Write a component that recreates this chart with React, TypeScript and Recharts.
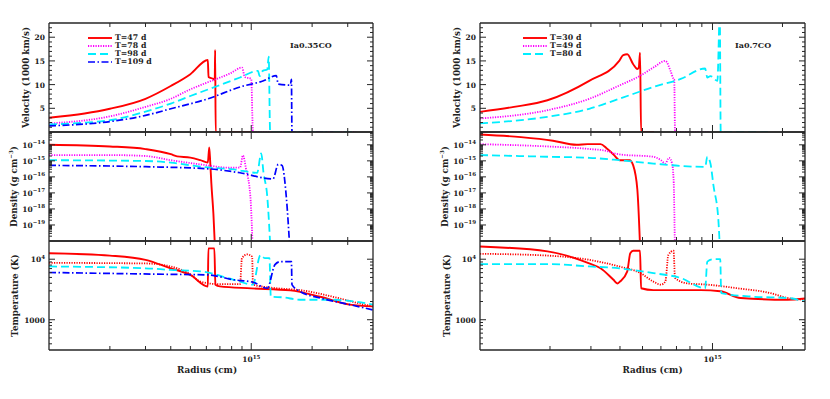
import React from 'react';
import { LineChart, Line, XAxis, YAxis, Legend } from 'recharts';

type Pt = [number, number];

// ---- model Ia0.35CO (left column) ----
const LEFT_MODEL = 'Ia0.35CO';
const LEFT_TIMES = ['T=47 d', 'T=78 d', 'T=98 d', 'T=109 d'];

// velocity in 1000 km/s vs radius (cm)
const L_VEL_47: Pt[] = [[1.0e14, 3.0], [1.5e14, 3.9], [2.0e14, 4.9], [3.0e14, 7.0], [4.0e14, 9.7], [5.0e14, 12.2], [6.1e14, 15.2], [6.15e14, 11.6], [6.5e14, 11.2], [6.6e14, 11.0], [6.63e14, 17.3], [6.67e14, 0], [1.0e15, 0]];
const L_VEL_78: Pt[] = [[1.0e14, 1.8], [2.0e14, 3.3], [3.0e14, 5.3], [4.0e14, 7.0], [5.0e14, 9.0], [6.1e14, 10.5], [7.9e14, 12.4], [9.0e14, 13.6], [9.3e14, 11.6], [1.0e15, 11.2], [1.02e15, 0], [3.3e15, 0]];
const L_VEL_98: Pt[] = [[1.0e14, 1.6], [2.0e14, 2.5], [3.0e14, 4.3], [4.0e14, 6.0], [5.0e14, 7.6], [6.8e14, 9.7], [8.8e14, 11.5], [1.08e15, 12.9], [1.1e15, 11.8], [1.14e15, 12.9], [1.2e15, 13.2], [1.22e15, 15.9], [1.24e15, 0], [3.3e15, 0]];
const L_VEL_109: Pt[] = [[1.0e14, 1.3], [2.0e14, 2.2], [3.0e14, 3.5], [4.0e14, 4.9], [6.1e14, 7.0], [8.8e14, 9.5], [1.15e15, 10.8], [1.33e15, 11.9], [1.36e15, 10.1], [1.56e15, 9.9], [1.58e15, 11.1], [1.59e15, 0], [2.55e15, 0]];

// density in g cm^-3
const L_DEN_47: Pt[] = [[1e14, 1.0e-14], [2e14, 7.9e-15], [3e14, 5.4e-15], [4e14, 2.6e-15], [4.3e14, 1.9e-15], [5e14, 1.6e-15], [5.6e14, 1.1e-15], [6.1e14, 7.8e-16], [6.2e14, 6.9e-15], [6.27e14, 8e-16], [6.35e14, 4e-17], [6.5e14, 5e-19], [6.65e14, 1e-21]];
const L_DEN_78: Pt[] = [[1e14, 2.3e-15], [2e14, 2.3e-15], [3e14, 2.0e-15], [4e14, 1.1e-15], [5.6e14, 6e-16], [7.9e14, 3.7e-16], [8.8e14, 3.8e-16], [9.1e14, 2.2e-15], [9.4e14, 3.7e-16], [9.9e14, 6e-18], [1.02e15, 1e-21]];
const L_DEN_98: Pt[] = [[1e14, 1.1e-15], [3e14, 9.8e-16], [4e14, 7.8e-16], [5.6e14, 4.3e-16], [8.2e14, 2.9e-16], [1.07e15, 1.8e-16], [1.12e15, 2.95e-15], [1.15e15, 1.8e-16], [1.2e15, 6e-18], [1.25e15, 1e-21]];
const L_DEN_109: Pt[] = [[1e14, 5.2e-16], [3e14, 4.3e-16], [6.1e14, 3.2e-16], [8.8e14, 1.8e-16], [1.28e15, 7.4e-17], [1.36e15, 6e-16], [1.42e15, 5.2e-16], [1.49e15, 6e-18], [1.56e15, 1e-21]];

// temperature in K
const L_TEM_47: Pt[] = [[1e14, 12560], [2e14, 11480], [3e14, 9770], [4e14, 7080], [5e14, 5500], [6.1e14, 3550], [6.14e14, 15100], [6.57e14, 15100], [6.65e14, 3800], [7.0e14, 3550], [1e15, 3300], [1.56e15, 3050], [2.19e15, 2400], [3.07e15, 1780], [4e15, 1660]];
const L_TEM_78: Pt[] = [[1e14, 8710], [3e14, 8510], [4e14, 7590], [5e14, 5620], [5.6e14, 4270], [6.8e14, 3890], [8.8e14, 3890], [9.0e14, 10470], [9.56e14, 12000], [1.01e15, 11000], [1.02e15, 3800], [1.34e15, 3310], [1.74e15, 3090], [2.53e15, 2400], [3.33e15, 1900], [4e15, 1660]];
const L_TEM_98: Pt[] = [[1e14, 7590], [3e14, 7080], [4e14, 6650], [5.6e14, 6310], [8.2e14, 4570], [1.02e15, 3800], [1.11e15, 11700], [1.17e15, 10400], [1.23e15, 10400], [1.25e15, 2400], [1.44e15, 2340], [1.74e15, 2140], [2.53e15, 2140], [4e15, 1780]];
const L_TEM_109: Pt[] = [[1e14, 6030], [4e14, 5620], [6.1e14, 5500], [8.2e14, 4570], [1.02e15, 4170], [1.2e15, 3310], [1.31e15, 8130], [1.39e15, 9120], [1.58e15, 9120], [1.59e15, 3800], [1.74e15, 2950], [2.19e15, 2290], [3.07e15, 1780], [4e15, 1450]];

// ---- model Ia0.7CO (right column) ----
const RIGHT_MODEL = 'Ia0.7CO';
const RIGHT_TIMES = ['T=30 d', 'T=49 d', 'T=80 d'];

const R_VEL_30: Pt[] = [[1e14, 4.25], [1.4e14, 5.3], [1.95e14, 6.7], [2.95e14, 10.8], [3.97e14, 15.0], [4.13e14, 16.2], [4.3e14, 16.4], [4.56e14, 14.3], [4.75e14, 13.3], [4.82e14, 13.6], [4.88e14, 16.75], [4.93e14, 0], [5.6e14, 0]];
const R_VEL_49: Pt[] = [[1e14, 2.85], [1.95e14, 4.6], [2.95e14, 7.0], [3.97e14, 9.8], [4.9e14, 11.9], [5.57e14, 13.6], [6.27e14, 15.0], [6.6e14, 12.9], [6.8e14, 11.2], [6.85e14, 11.0], [6.9e14, 0], [9.8e14, 0]];
const R_VEL_80: Pt[] = [[1e14, 1.8], [1.95e14, 3.2], [2.95e14, 4.9], [3.97e14, 7.0], [5.57e14, 9.5], [7.3e14, 11.2], [9.3e14, 13.4], [9.5e14, 11.5], [9.8e14, 11.8], [1.05e15, 10.8], [1.075e15, 25], [1.085e15, 0], [1.73e15, 0]];

const R_DEN_30: Pt[] = [[1e14, 4.4e-14], [1.5e14, 3.0e-14], [2.06e14, 1.8e-14], [2.6e14, 1.0e-14], [2.9e14, 1.1e-14], [3.3e14, 1.1e-14], [3.5e14, 6.2e-15], [3.75e14, 2.5e-15], [4.0e14, 1.1e-15], [4.4e14, 1.1e-15], [4.56e14, 5.2e-16], [4.75e14, 1.7e-17], [4.9e14, 1e-21]];
const R_DEN_49: Pt[] = [[1e14, 1.1e-14], [1.95e14, 7.9e-15], [2.95e14, 5.5e-15], [3.5e14, 4.2e-15], [3.75e14, 3.0e-15], [4.0e14, 2.5e-15], [5.57e14, 1.8e-15], [6.0e14, 1.1e-15], [6.27e14, 6.8e-16], [6.5e14, 1.55e-15], [6.7e14, 6.8e-16], [6.8e14, 8e-17], [6.9e14, 1e-21]];
const R_DEN_80: Pt[] = [[1e14, 2.3e-15], [1.95e14, 1.8e-15], [2.95e14, 1.55e-15], [3.97e14, 1.1e-15], [5.57e14, 6.8e-16], [7.3e14, 4.8e-16], [9.3e14, 4.2e-16], [9.5e14, 1.8e-15], [9.8e14, 6.8e-16], [1.01e15, 2.8e-17], [1.06e15, 2e-19], [1.08e15, 1e-21]];

const R_TEM_30: Pt[] = [[1e14, 16200], [1.95e14, 13500], [2.95e14, 8510], [3.3e14, 7080], [3.75e14, 4570], [3.9e14, 3980], [4.0e14, 4270], [4.3e14, 6310], [4.43e14, 12600], [4.56e14, 13800], [4.88e14, 13800], [4.93e14, 3310], [5.57e14, 3090], [8.9e14, 3090], [1.08e15, 2950], [1.32e15, 2290], [2.1e15, 2140], [2.5e15, 2240]];
const R_TEM_49: Pt[] = [[1e14, 12300], [1.95e14, 11480], [2.95e14, 9770], [3.97e14, 7590], [4.9e14, 5890], [5.57e14, 4270], [6.0e14, 3800], [6.27e14, 4270], [6.46e14, 11750], [6.8e14, 13800], [6.9e14, 4900], [7.8e14, 3980], [9.5e14, 3800], [1.28e15, 3310], [1.78e15, 2750], [2.1e15, 2290], [2.5e15, 2140]];
const R_TEM_80: Pt[] = [[1e14, 8320], [1.95e14, 8320], [2.95e14, 7590], [3.97e14, 7080], [5.57e14, 5890], [7.3e14, 4900], [9.3e14, 3310], [9.5e14, 9120], [1.01e15, 10000], [1.08e15, 10000], [1.09e15, 2750], [1.5e15, 2400], [2.1e15, 2290], [2.5e15, 2000]];

// axes
const LEFT_X_DOMAIN: [number, number] = [1e14, 4e15];
const RIGHT_X_DOMAIN: [number, number] = [1e14, 2.5e15];
const LEFT_X_TICKS = [2e14, 3e14, 4e14, 5e14, 6e14, 7e14, 8e14, 9e14, 1e15, 2e15, 3e15];
const RIGHT_X_TICKS = [2e14, 3e14, 4e14, 5e14, 6e14, 7e14, 8e14, 9e14, 1e15, 2e15];
const VEL_DOMAIN: [number, number] = [0, 23];
const VEL_TICKS = Array.from({ length: 22 }, (_, i) => i + 1);
const DEN_DOMAIN: [number, number] = [1e-20, 6.3e-14];
const DEN_DECADES = [-20, -19, -18, -17, -16, -15, -14];
const TEM_DOMAIN: [number, number] = [316, 20000];
const TEM_TICKS = [400, 500, 600, 700, 800, 900, 1000, 2000, 3000, 4000, 5000, 6000, 7000, 8000, 9000, 10000];

const DEN_TICKS: number[] = [];
DEN_DECADES.forEach((d) => {
  for (let m = 1; m <= 9; m++) {
    const v = m * Math.pow(10, d);
    if (v > DEN_DOMAIN[0] && v < DEN_DOMAIN[1]) DEN_TICKS.push(v);
  }
});

const COLORS = ['#ff0000', '#ff00ff', '#00eeff', '#0000ff'];
const DASHES = [undefined, '1.2 1.3', '8 4', '7 2.5 1.5 2.5'];
const WIDTHS = [1.9, 1.8, 1.8, 1.7];

const AXIS = '#262626';
const FONT = '"DejaVu Serif", "Liberation Serif", serif';

interface Series {
  name: string;
  data: Pt[];
  color: string;
  dash?: string;
  width: number;
}

const makeSeries = (names: string[], sets: Pt[][], colors = COLORS): Series[] =>
  sets.map((d, i) => ({ name: names[i], data: d, color: colors[i], dash: DASHES[i], width: WIDTHS[i] }));

const isDecade = (v: number) => {
  const l = Math.log10(v);
  return Math.abs(l - Math.round(l)) < 1e-6;
};

const Pow10 = ({ e }: { e: number }) => (
  <>
    10<tspan dy={-3.5} fontSize={5.5}>{e < 0 ? '\u2212' + Math.abs(e) : e}</tspan>
  </>
);

const xTick = (side: 'top' | 'bottom', showLabels: boolean) => (p: any) => {
  const { x, y, payload } = p;
  const major = isDecade(payload.value);
  const len = major ? 7 : 4;
  const d = side === 'bottom' ? -1 : 1;
  return (
    <g>
      <line x1={x} x2={x} y1={y} y2={y + d * len} stroke={AXIS} strokeWidth={1} />
      {showLabels && major && (
        <text x={x} y={y + 12} textAnchor="middle" fontSize={7.5} fontFamily={FONT} fontWeight="bold" fill="#222">
          <Pow10 e={Math.round(Math.log10(payload.value))} />
        </text>
      )}
    </g>
  );
};

const yTick = (side: 'left' | 'right', isMajor: (v: number) => boolean, fmt: (v: number) => React.ReactNode) => (p: any) => {
  const { x, y, payload } = p;
  const major = isMajor(payload.value);
  const len = major ? 6 : 3;
  const d = side === 'left' ? 1 : -1;
  const label = side === 'left' && major ? fmt(payload.value) : null;
  return (
    <g>
      <line x1={x} x2={x + d * len} y1={y} y2={y} stroke={AXIS} strokeWidth={1} />
      {label !== null && (
        <text x={x - 4} y={y + 3} textAnchor="end" fontSize={7.5} fontFamily={FONT} fontWeight="bold" fill="#222">
          {label}
        </text>
      )}
    </g>
  );
};

const YTitle = (props: any) => {
  const { viewBox, caption, dx } = props;
  const cx = viewBox.x + viewBox.width - dx;
  const cy = viewBox.y + viewBox.height / 2;
  return (
    <text x={cx} y={cy} transform={`rotate(-90 ${cx} ${cy})`} textAnchor="middle" dominantBaseline="central" fontSize={8.8} fontFamily={FONT} fontWeight="bold" fill="#222">
      {caption}
    </text>
  );
};

const XTitle = (props: any) => {
  const { viewBox, caption, shift } = props;
  return (
    <text x={viewBox.x + viewBox.width / 2 + shift} y={viewBox.y + 23} textAnchor="middle" fontSize={8.8} fontFamily={FONT} fontWeight="bold" fill="#222">
      {caption}
    </text>
  );
};

const LegendBox = ({ items }: { items: Series[] }) => (
  <div style={{ fontFamily: FONT, fontSize: 7.8, fontWeight: 'bold', color: '#222', lineHeight: '8px' }}>
    {items.map((s) => (
      <div key={s.name} style={{ display: 'flex', alignItems: 'center', height: 8 }}>
        <svg width={24} height={8} style={{ display: 'block' }}>
          <line x1={0} x2={24} y1={4} y2={4} stroke={s.color} strokeWidth={s.width} strokeDasharray={s.dash} />
        </svg>
        <span style={{ marginLeft: 3, whiteSpace: 'nowrap' }}>{s.name}</span>
      </div>
    ))}
  </div>
);

interface PanelProps {
  plotLeft: number;
  plotWidth: number;
  plotTop: number;
  plotHeight: number;
  bottomRoom: number;
  xDomain: [number, number];
  xTicks: number[];
  xLabels: boolean;
  xTitleShift?: number;
  yLog: boolean;
  yDomain: [number, number];
  yTicks: number[];
  isMajorY: (v: number) => boolean;
  fmtY: (v: number) => React.ReactNode;
  yTitle: React.ReactNode;
  yTitleX: number;
  series: Series[];
  legendAt?: { left: number; top: number };
}

// outer room around each plot; each axis takes 1px of it
const ROOM_LEFT = 48;
const ROOM_RIGHT = 8;
const ROOM_TOP = 6;

const Panel = (p: PanelProps) => {
  const boxLeft = p.plotLeft - ROOM_LEFT;
  const boxTop = p.plotTop - ROOM_TOP;
  const width = p.plotWidth + ROOM_LEFT + ROOM_RIGHT;
  const height = p.plotHeight + ROOM_TOP + p.bottomRoom;
  const axisLine = { stroke: AXIS, strokeWidth: 1.3 };
  return (
    <div style={{ position: 'absolute', left: boxLeft, top: boxTop }}>
      <LineChart
        width={width}
        height={height}
        margin={{ top: ROOM_TOP - 1, right: ROOM_RIGHT - 1, bottom: p.bottomRoom - 1, left: ROOM_LEFT - 1 }}
      >
        <XAxis
          dataKey="r"
          type="number"
          scale="log"
          domain={p.xDomain}
          allowDataOverflow
          ticks={p.xTicks}
          interval={0}
          height={1}
          tickSize={0}
          tickMargin={0}
          tickLine={false}
          axisLine={axisLine}
          tick={xTick('bottom', p.xLabels)}
          label={p.xLabels ? <XTitle caption="Radius (cm)" shift={p.xTitleShift ?? 0} /> : undefined}
        />
        <XAxis
          xAxisId="top"
          orientation="top"
          dataKey="r"
          type="number"
          scale="log"
          domain={p.xDomain}
          allowDataOverflow
          ticks={p.xTicks}
          interval={0}
          height={1}
          tickSize={0}
          tickMargin={0}
          tickLine={false}
          axisLine={axisLine}
          tick={xTick('top', false)}
        />
        <YAxis
          type="number"
          scale={p.yLog ? 'log' : 'linear'}
          domain={p.yDomain}
          allowDataOverflow
          ticks={p.yTicks}
          interval={0}
          width={1}
          tickSize={0}
          tickMargin={0}
          tickLine={false}
          axisLine={axisLine}
          tick={yTick('left', p.isMajorY, p.fmtY)}
          label={<YTitle caption={p.yTitle} dx={p.plotLeft - p.yTitleX} />}
        />
        <YAxis
          yAxisId="right"
          orientation="right"
          type="number"
          scale={p.yLog ? 'log' : 'linear'}
          domain={p.yDomain}
          allowDataOverflow
          ticks={p.yTicks}
          interval={0}
          width={1}
          tickSize={0}
          tickMargin={0}
          tickLine={false}
          axisLine={axisLine}
          tick={yTick('right', p.isMajorY, p.fmtY)}
        />
        {p.legendAt && (
          <Legend
            layout="vertical"
            align="center"
            verticalAlign="middle"
            wrapperStyle={{ left: p.legendAt.left - boxLeft, top: p.legendAt.top - boxTop, width: 'auto', height: 'auto' }}
            content={() => <LegendBox items={p.series} />}
          />
        )}
        {p.series.map((s) => (
          <Line
            key={s.name}
            name={s.name}
            data={s.data.map(([r, y]) => ({ r, y }))}
            dataKey="y"
            type="monotone"
            stroke={s.color}
            strokeWidth={s.width}
            strokeDasharray={s.dash}
            dot={false}
            activeDot={false}
            isAnimationActive={false}
          />
        ))}
      </LineChart>
    </div>
  );
};

const velMajor = (v: number) => v % 5 === 0;
const velFmt = (v: number) => String(v);
const denFmt = (v: number) => {
  const e = Math.round(Math.log10(v));
  return e > -20 ? <Pow10 e={e} /> : null;
};
const temFmt = (v: number) => (v === 1000 ? '1000' : <Pow10 e={Math.round(Math.log10(v))} />);

const ROWS = [
  { top: 23, h: 109 },
  { top: 132, h: 109 },
  { top: 241, h: 109 },
];

interface ColumnProps {
  plotLeft: number;
  plotWidth: number;
  xDomain: [number, number];
  xTicks: number[];
  model: string;
  modelX: number;
  names: string[];
  vel: Pt[][];
  den: Pt[][];
  tem: Pt[][];
  titleX: [number, number, number];
  xTitleShift: number;
  legendLeft: number;
}

const Column = (c: ColumnProps) => {
  const common = { plotLeft: c.plotLeft, plotWidth: c.plotWidth, xDomain: c.xDomain, xTicks: c.xTicks };
  // the temperature curve of the second epoch is drawn in red in the original
  const temColors = [COLORS[0], COLORS[0], COLORS[2], COLORS[3]];
  return (
    <>
      <Panel
        {...common}
        plotTop={ROWS[0].top}
        plotHeight={ROWS[0].h}
        bottomRoom={4}
        xLabels={false}
        yLog={false}
        yDomain={VEL_DOMAIN}
        yTicks={VEL_TICKS}
        isMajorY={velMajor}
        fmtY={velFmt}
        yTitle="Velocity (1000 km/s)"
        yTitleX={c.titleX[0]}
        series={makeSeries(c.names, c.vel)}
        legendAt={{ left: c.legendLeft, top: 34 }}
      />
      <Panel
        {...common}
        plotTop={ROWS[1].top}
        plotHeight={ROWS[1].h}
        bottomRoom={4}
        xLabels={false}
        yLog
        yDomain={DEN_DOMAIN}
        yTicks={DEN_TICKS}
        isMajorY={isDecade}
        fmtY={denFmt}
        yTitle={<>Density (g cm<tspan dy={-3} fontSize={5.5}>{'\u2212'}3</tspan><tspan dy={3}>)</tspan></>}
        yTitleX={c.titleX[1]}
        series={makeSeries(c.names, c.den)}
      />
      <Panel
        {...common}
        plotTop={ROWS[2].top}
        plotHeight={ROWS[2].h}
        bottomRoom={32}
        xLabels
        xTitleShift={c.xTitleShift}
        yLog
        yDomain={TEM_DOMAIN}
        yTicks={TEM_TICKS}
        isMajorY={isDecade}
        fmtY={temFmt}
        yTitle="Temperature (K)"
        yTitleX={c.titleX[2]}
        series={makeSeries(c.names, c.tem, temColors)}
      />
      <div
        style={{
          position: 'absolute',
          left: c.modelX,
          top: 40,
          fontFamily: FONT,
          fontSize: 8,
          fontWeight: 'bold',
          color: '#222',
          whiteSpace: 'nowrap',
        }}
      >
        {c.model}
      </div>
    </>
  );
};

const App: React.FC = () => {
  return (
    <div style={{ position: 'absolute', left: 0, top: 0, width: 830, height: 399, background: '#fff', overflow: 'hidden' }}>
      <Column
        plotLeft={49}
        plotWidth={324}
        xDomain={LEFT_X_DOMAIN}
        xTicks={LEFT_X_TICKS}
        model={LEFT_MODEL}
        modelX={290}
        names={LEFT_TIMES}
        vel={[L_VEL_47, L_VEL_78, L_VEL_98, L_VEL_109]}
        den={[L_DEN_47, L_DEN_78, L_DEN_98, L_DEN_109]}
        tem={[L_TEM_47, L_TEM_78, L_TEM_98, L_TEM_109]}
        titleX={[26, 14, 15]}
        xTitleShift={-4}
        legendLeft={88}
      />
      <Column
        plotLeft={480}
        plotWidth={325}
        xDomain={RIGHT_X_DOMAIN}
        xTicks={RIGHT_X_TICKS}
        model={RIGHT_MODEL}
        modelX={735}
        names={RIGHT_TIMES}
        vel={[R_VEL_30, R_VEL_49, R_VEL_80]}
        den={[R_DEN_30, R_DEN_49, R_DEN_80]}
        tem={[R_TEM_30, R_TEM_49, R_TEM_80]}
        titleX={[457, 445, 447]}
        xTitleShift={10}
        legendLeft={523}
      />
    </div>
  );
};

export default App;
